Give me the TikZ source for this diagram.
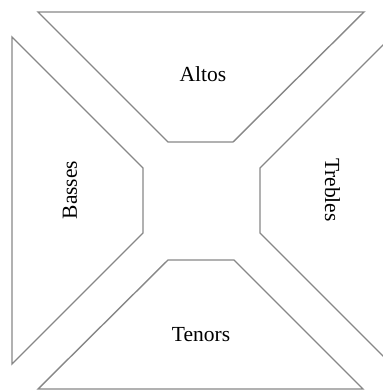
\documentclass[tikz,border=0pt]{standalone}
\usepackage{fontspec}
\setmainfont{Liberation Serif}
\definecolor{linegray}{RGB}{135,135,135}
\begin{document}
\begin{tikzpicture}[x=1pt,y=-1pt,
  part/.style={draw=linegray, line width=1.4pt, line join=miter},
  lab/.style={font=\fontsize{21.5}{25}\selectfont, inner sep=0pt, text=black}]
\useasboundingbox (0,0) rectangle (383,392);
\clip (0,0) rectangle (383,392);
% Altos
\draw[part] (38,12) -- (364,12) -- (233,142) -- (168,142) -- cycle;
% Basses
\draw[part] (12,37) -- (143,168) -- (143,233) -- (12,364) -- cycle;
% Trebles (cut by the frame on the right)
\draw[part] (391,37) -- (260,168) -- (260,233) -- (391,364) -- cycle;
% Tenors
\draw[part] (168,260) -- (234,260) -- (363,389) -- (38,389) -- cycle;
\node[lab, anchor=base] (altos) at (203,81) {Altos};
\node[lab, anchor=base] (tenors) at (201,341) {Tenors};
\node[lab, anchor=base, rotate=90] (basses) at (77,190) {Basses};
\node[lab, anchor=base, rotate=-90] (trebles) at (325,190) {Trebles};
\end{tikzpicture}
\end{document}
